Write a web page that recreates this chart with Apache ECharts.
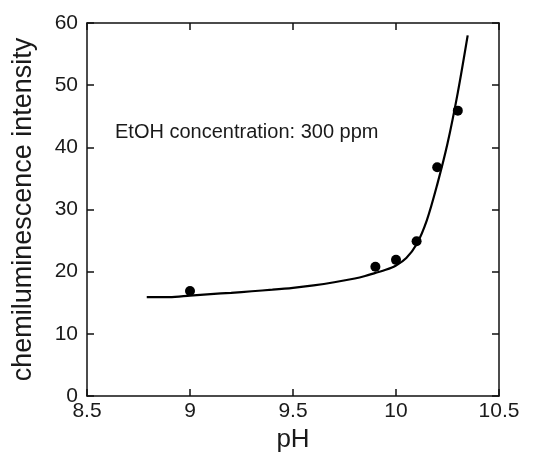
<!DOCTYPE html>
<html>
<head>
<meta charset="utf-8">
<script src="https://cdn.jsdelivr.net/npm/echarts@6/dist/echarts.min.js"></script>
<style>
html,body{margin:0;padding:0;background:#fff;}
#chart{width:533px;height:458px;}
</style>
</head>
<body>
<div id="chart"></div>
<script>
// Measured points
const pointPH = [9.0, 9.9, 10.0, 10.1, 10.2, 10.3];
const pointIntensity = [16.9, 20.8, 21.9, 24.9, 36.8, 45.9];
// Fitted curve
const curvePH = [8.79, 8.9, 9.0, 9.1, 9.2, 9.3, 9.4, 9.5, 9.6, 9.7, 9.8, 9.85, 9.9, 9.95, 10.0, 10.05, 10.1, 10.15, 10.2, 10.25, 10.3, 10.348];
const curveIntensity = [15.9, 15.9, 16.15, 16.4, 16.6, 16.85, 17.1, 17.4, 17.8, 18.3, 18.9, 19.3, 19.8, 20.3, 21.0, 22.2, 24.4, 28.3, 34.0, 40.6, 48.8, 58.0];
const xTicks = [8.5, 9, 9.5, 10, 10.5];
const yTicks = [0, 10, 20, 30, 40, 50, 60];
const annotation = 'EtOH concentration: 300 ppm';
const xName = 'pH';
const yName = 'chemiluminescence intensity';

const font = '"Liberation Sans", Arial, sans-serif';
const chart = echarts.init(document.getElementById('chart'), null, {renderer: 'canvas'});

const mkLine = () => ({show: true, onZero: false, lineStyle: {color: '#111', width: 1.5}});
const mkTick = () => ({show: true, inside: true, length: 7, lineStyle: {color: '#111', width: 1.5}});

chart.setOption({
  backgroundColor: '#fff',
  animation: false,
  grid: {left: 87, right: 34, top: 23, bottom: 58},
  xAxis: [{
    type: 'value', min: xTicks[0], max: xTicks[xTicks.length - 1], interval: 0.5,
    position: 'bottom',
    axisLine: mkLine(), axisTick: mkTick(), splitLine: {show: false},
    axisLabel: {color: '#1a1a1a', fontSize: 21, fontFamily: font, margin: 5,
      formatter: v => String(v)},
    name: xName, nameLocation: 'middle', nameGap: 31,
    nameTextStyle: {color: '#1a1a1a', fontSize: 26, fontFamily: font}
  }, {
    type: 'value', min: xTicks[0], max: xTicks[xTicks.length - 1], interval: 0.5,
    position: 'top',
    axisLine: mkLine(), axisTick: mkTick(), splitLine: {show: false},
    axisLabel: {show: false}
  }],
  yAxis: [{
    type: 'value', min: yTicks[0], max: yTicks[yTicks.length - 1], interval: 10,
    position: 'left',
    axisLine: mkLine(), axisTick: mkTick(), splitLine: {show: false},
    axisLabel: {color: '#1a1a1a', fontSize: 21, fontFamily: font, margin: 9},
    name: yName, nameLocation: 'middle', nameGap: 50,
    nameTextStyle: {color: '#1a1a1a', fontSize: 27, fontFamily: font}
  }, {
    type: 'value', min: yTicks[0], max: yTicks[yTicks.length - 1], interval: 10,
    position: 'right',
    axisLine: mkLine(), axisTick: mkTick(), splitLine: {show: false},
    axisLabel: {show: false}
  }],
  graphic: [{
    type: 'text', left: 115, top: 122,
    style: {text: annotation, fill: '#1a1a1a', font: '20px ' + font}
  }],
  series: [{
    type: 'line',
    data: curvePH.map((x, i) => [x, curveIntensity[i]]),
    smooth: 0.3,
    symbol: 'none',
    lineStyle: {color: '#000', width: 2.2},
    z: 2
  }, {
    type: 'scatter',
    data: pointPH.map((x, i) => [x, pointIntensity[i]]),
    symbol: 'circle', symbolSize: 10,
    itemStyle: {color: '#000', opacity: 1},
    z: 3
  }]
});
</script>
</body>
</html>
